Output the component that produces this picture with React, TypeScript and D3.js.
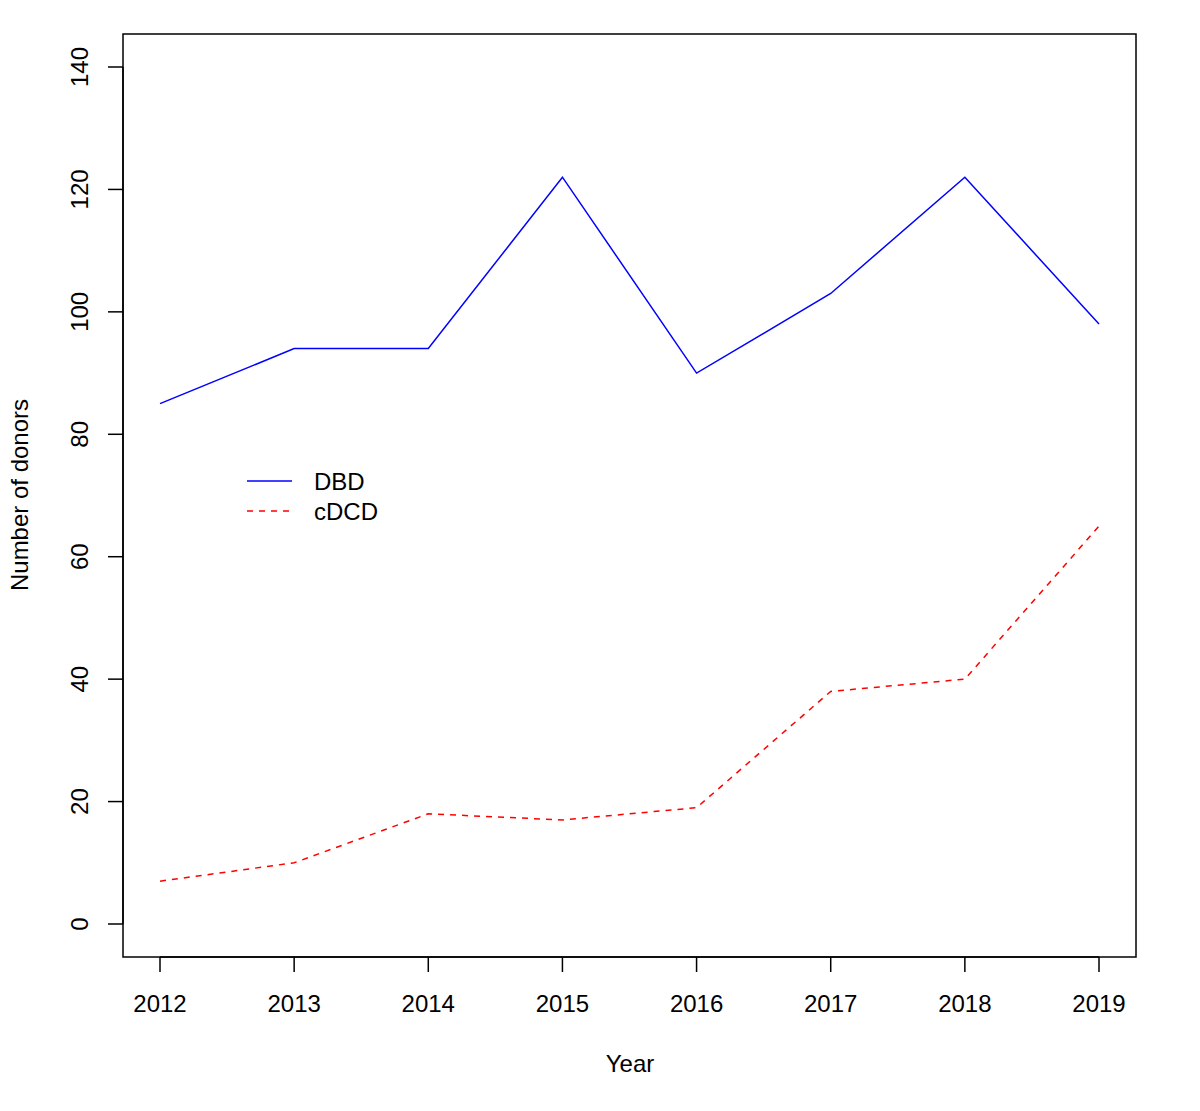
import * as React from "react";
import * as d3 from "d3";

const years = [2012, 2013, 2014, 2015, 2016, 2017, 2018, 2019];
const dbd = [85, 94, 94, 122, 90, 103, 122, 98];
const cdcd = [7, 10, 18, 17, 19, 38, 40, 65];
const yTicks = [0, 20, 40, 60, 80, 100, 120, 140];

const W = 1200;
const H = 1111;
const box = { left: 123, right: 1136, top: 34, bottom: 957 };
const font = "'Liberation Sans', Arial, sans-serif";

export default function App() {
  const x = d3.scaleLinear().domain([2012, 2019]).range([160, 1099]);
  const y = d3.scaleLinear().domain([0, 140]).range([924, 67]);

  const line = d3
    .line<number>()
    .x((_, i) => x(years[i]))
    .y((d) => y(d));

  return (
    <svg
      width={W}
      height={H}
      style={{ position: "absolute", left: 0, top: 0, background: "#fff" }}
      fontFamily={font}
    >
      <rect
        x={box.left}
        y={box.top}
        width={box.right - box.left}
        height={box.bottom - box.top}
        fill="none"
        stroke="#000"
        strokeWidth={1.5}
      />
      {/* x axis */}
      <line x1={x(2012)} x2={x(2019)} y1={box.bottom} y2={box.bottom} stroke="#000" strokeWidth={1.5} />
      {years.map((yr) => (
        <g key={yr}>
          <line x1={x(yr)} x2={x(yr)} y1={box.bottom} y2={box.bottom + 15} stroke="#000" strokeWidth={1.5} />
          <text x={x(yr)} y={1012} fontSize={24} textAnchor="middle">
            {yr}
          </text>
        </g>
      ))}
      {/* y axis */}
      <line x1={box.left} x2={box.left} y1={y(0)} y2={y(140)} stroke="#000" strokeWidth={1.5} />
      {yTicks.map((t) => (
        <g key={t}>
          <line x1={box.left - 15} x2={box.left} y1={y(t)} y2={y(t)} stroke="#000" strokeWidth={1.5} />
          <text
            transform={`translate(88,${y(t)}) rotate(-90)`}
            fontSize={24}
            textAnchor="middle"
          >
            {t}
          </text>
        </g>
      ))}
      <text x={630} y={1072} fontSize={24} textAnchor="middle">
        Year
      </text>
      <text transform="translate(28,495) rotate(-90)" fontSize={24} textAnchor="middle">
        Number of donors
      </text>
      {/* series */}
      <path d={line(dbd) || ""} fill="none" stroke="#0000ff" strokeWidth={1.5} />
      <path d={line(cdcd) || ""} fill="none" stroke="#ff0000" strokeWidth={1.5} strokeDasharray="6,6" />
      {/* legend */}
      <line x1={247} x2={292} y1={481} y2={481} stroke="#0000ff" strokeWidth={1.5} />
      <line x1={247} x2={292} y1={511} y2={511} stroke="#ff0000" strokeWidth={1.5} strokeDasharray="6,6" />
      <text x={314} y={490} fontSize={24}>
        DBD
      </text>
      <text x={314} y={520} fontSize={24}>
        cDCD
      </text>
    </svg>
  );
}
